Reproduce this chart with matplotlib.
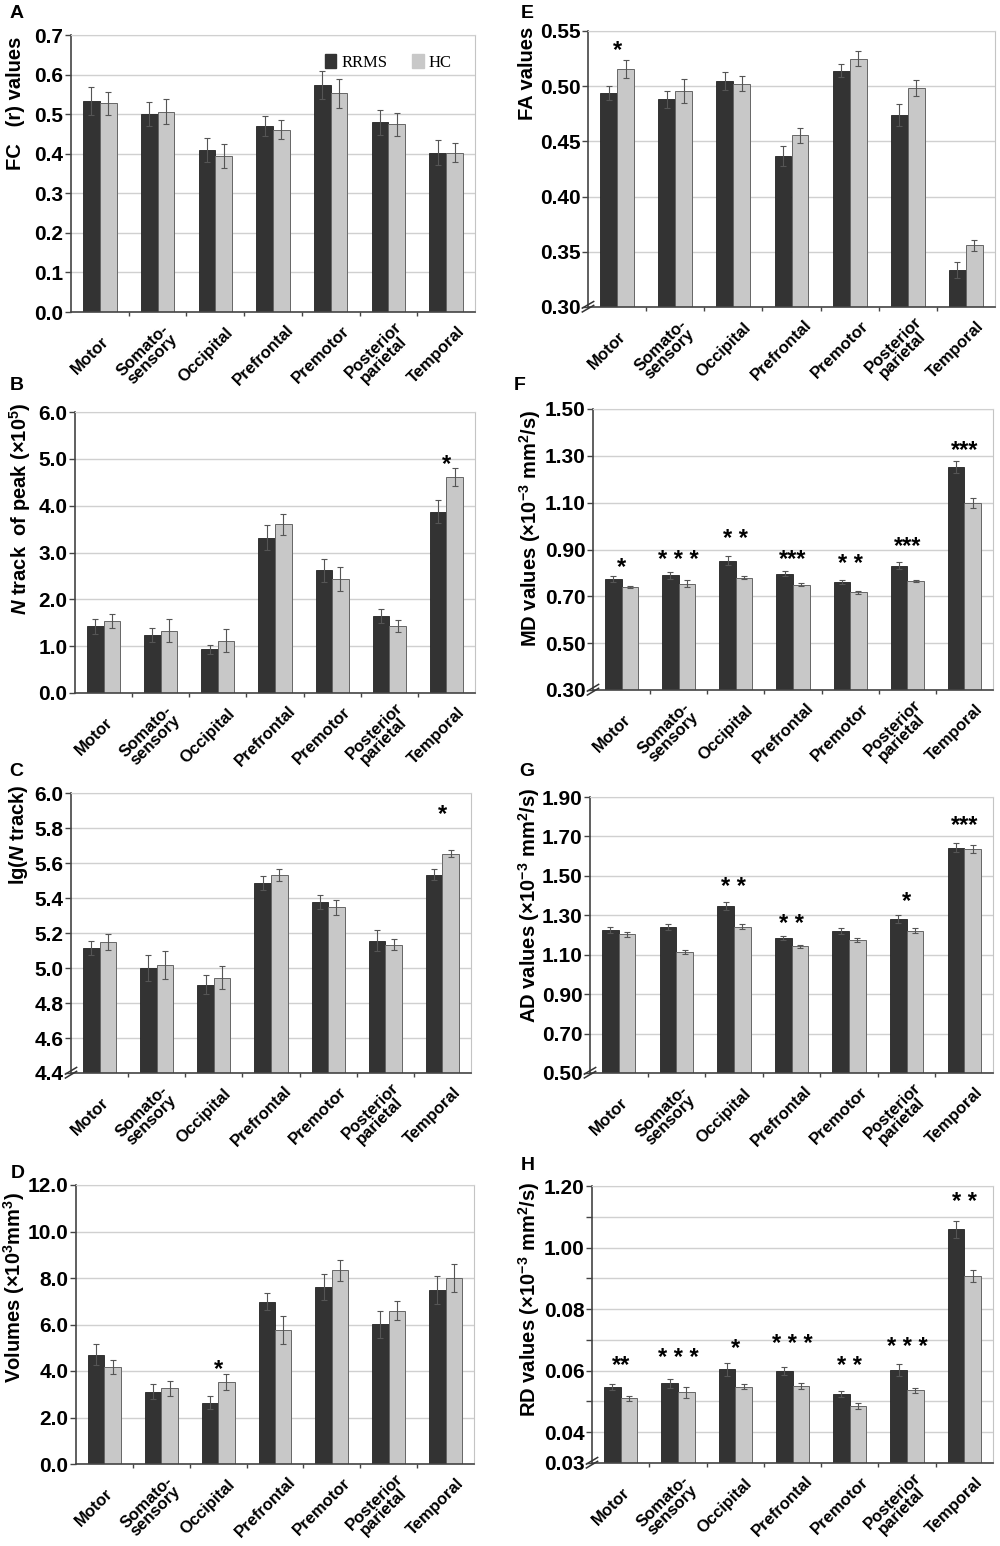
import matplotlib
matplotlib.use('Agg')
import matplotlib.pyplot as plt
import matplotlib.transforms as mtransforms
from matplotlib import font_manager as fm
from matplotlib.patches import Patch
import numpy as np

# ---------------- data ----------------
categories = ['Motor', 'Somato-\nsensory', 'Occipital', 'Prefrontal',
              'Premotor', 'Posterior\nparietal', 'Temporal']

fc_rrms = [0.534, 0.500, 0.410, 0.471, 0.574, 0.479, 0.403]
fc_rrms_err = [0.035, 0.030, 0.030, 0.025, 0.035, 0.032, 0.032]
fc_hc = [0.527, 0.506, 0.394, 0.461, 0.553, 0.474, 0.403]
fc_hc_err = [0.030, 0.032, 0.030, 0.025, 0.037, 0.030, 0.025]

nt_rrms = [1.42, 1.23, 0.93, 3.32, 2.62, 1.64, 3.87]
nt_rrms_err = [0.15, 0.15, 0.10, 0.27, 0.25, 0.15, 0.25]
nt_hc = [1.53, 1.33, 1.12, 3.60, 2.43, 1.43, 4.61]
nt_hc_err = [0.15, 0.25, 0.25, 0.22, 0.25, 0.12, 0.20]

lg_rrms = [5.116, 4.999, 4.905, 5.487, 5.379, 5.156, 5.534]
lg_rrms_err = [0.040, 0.075, 0.055, 0.040, 0.040, 0.060, 0.030]
lg_hc = [5.147, 5.016, 4.945, 5.531, 5.346, 5.133, 5.654]
lg_hc_err = [0.045, 0.080, 0.065, 0.035, 0.045, 0.030, 0.020]

vol_rrms = [4.69, 3.11, 2.64, 6.98, 7.60, 6.01, 7.48]
vol_rrms_err = [0.45, 0.33, 0.28, 0.37, 0.56, 0.57, 0.60]
vol_hc = [4.17, 3.25, 3.53, 5.78, 8.33, 6.60, 8.00]
vol_hc_err = [0.32, 0.32, 0.35, 0.60, 0.45, 0.40, 0.62]

fa_rrms = [0.4937, 0.4880, 0.5048, 0.4370, 0.5139, 0.4738, 0.3337]
fa_rrms_err = [0.0065, 0.0075, 0.0080, 0.0090, 0.0060, 0.0100, 0.0070]
fa_hc = [0.5157, 0.4955, 0.5024, 0.4554, 0.5250, 0.4985, 0.3560]
fa_hc_err = [0.0080, 0.0110, 0.0070, 0.0070, 0.0070, 0.0070, 0.0050]

md_rrms = [0.773, 0.790, 0.852, 0.797, 0.760, 0.830, 1.251]
md_rrms_err = [0.012, 0.015, 0.020, 0.010, 0.008, 0.015, 0.025]
md_hc = [0.740, 0.753, 0.780, 0.750, 0.717, 0.766, 1.099]
md_hc_err = [0.004, 0.015, 0.007, 0.007, 0.005, 0.005, 0.020]

ad_rrms = [1.225, 1.242, 1.349, 1.183, 1.222, 1.281, 1.643]
ad_rrms_err = [0.015, 0.015, 0.020, 0.010, 0.015, 0.018, 0.022]
ad_hc = [1.203, 1.114, 1.242, 1.143, 1.173, 1.222, 1.636]
ad_hc_err = [0.012, 0.012, 0.012, 0.008, 0.010, 0.012, 0.020]

rd_rrms = [0.0546, 0.0559, 0.0604, 0.0599, 0.0525, 0.0602, 0.1059]
rd_rrms_err = [0.0010, 0.0015, 0.0020, 0.0012, 0.0010, 0.0020, 0.0028]
rd_hc = [0.0510, 0.0530, 0.0548, 0.0549, 0.0484, 0.0536, 0.0907]
rd_hc_err = [0.0007, 0.0018, 0.0008, 0.0010, 0.0010, 0.0008, 0.0020]

ticks_A = [0.0, 0.1, 0.2, 0.3, 0.4, 0.5, 0.6, 0.7]
labels_A = ['0.0', '0.1', '0.2', '0.3', '0.4', '0.5', '0.6', '0.7']
ticks_B = [0, 1, 2, 3, 4, 5, 6]
labels_B = ['0.0', '1.0', '2.0', '3.0', '4.0', '5.0', '6.0']
ticks_C = [4.4, 4.6, 4.8, 5.0, 5.2, 5.4, 5.6, 5.8, 6.0]
labels_C = ['4.4', '4.6', '4.8', '5.0', '5.2', '5.4', '5.6', '5.8', '6.0']
ticks_D = [0, 2, 4, 6, 8, 10, 12]
labels_D = ['0.0', '2.0', '4.0', '6.0', '8.0', '10.0', '12.0']
ticks_E = [0.30, 0.35, 0.40, 0.45, 0.50, 0.55]
labels_E = ['0.30', '0.35', '0.40', '0.45', '0.50', '0.55']
ticks_F = [0.30, 0.50, 0.70, 0.90, 1.10, 1.30, 1.50]
labels_F = ['0.30', '0.50', '0.70', '0.90', '1.10', '1.30', '1.50']
ticks_G = [0.50, 0.70, 0.90, 1.10, 1.30, 1.50, 1.70, 1.90]
labels_G = ['0.50', '0.70', '0.90', '1.10', '1.30', '1.50', '1.70', '1.90']
ticks_H = [0.03, 0.04, 0.05, 0.06, 0.07, 0.08, 0.09, 0.10, 0.11, 0.12]
labels_H = ['0.03', '0.04', '', '0.06', '', '0.08', '', '1.00', '', '1.20']

stars_B = ['', '', '', '', '', '', '*']
star_y_B = [0, 0, 0, 0, 0, 0, 5.02]
stars_C = ['', '', '', '', '', '', '*']
star_y_C = [0, 0, 0, 0, 0, 0, 5.916]
stars_D = ['', '', '*', '', '', '', '']
star_y_D = [0, 0, 4.39, 0, 0, 0, 0]
stars_E = ['*', '', '', '', '', '', '']
star_y_E = [0.5386, 0, 0, 0, 0, 0, 0]
stars_F = ['*', '* * *', '* *', '***', '* *', '***', '***']
star_y_F = [0.855, 0.884, 0.973, 0.888, 0.867, 0.945, 1.353]
stars_G = ['', '', '* *', '* *', '', '*', '***']
star_y_G = [0, 0, 1.477, 1.291, 0, 1.406, 1.790]
stars_H = ['**', '* * *', '*', '* * *', '* *', '* * *', '* *']
star_y_H = [0.0639, 0.0664, 0.0694, 0.0709, 0.0636, 0.0700, 0.1168]

# ---------------- fonts ----------------
_names = {f.name for f in fm.fontManager.ttflist}
if 'Liberation Sans Narrow' in _names:
    MAIN = 'Liberation Sans Narrow'
    TICK_FS, LAB_FS = 17, 17
else:
    MAIN = 'Liberation Sans'
    TICK_FS, LAB_FS = 15, 14.5

plt.rcParams['font.family'] = [MAIN, 'DejaVu Sans']
plt.rcParams['font.weight'] = 'bold'
plt.rcParams['mathtext.fontset'] = 'custom'
plt.rcParams['mathtext.rm'] = MAIN + ':bold'
plt.rcParams['mathtext.bf'] = MAIN + ':bold'
plt.rcParams['mathtext.it'] = MAIN + ':bold:italic'
plt.rcParams['mathtext.default'] = 'bf'

C_RRMS = '#333333'
C_HC = '#c8c8c8'

fig = plt.figure(figsize=(10, 15.46), dpi=100)
W, H = 1000.0, 1546.0


def px_axes(left, right, top, bottom):
    return [left / W, 1 - bottom / H, (right - left) / W, (bottom - top) / H]


panels = [
    dict(box=(71, 475, 35, 312), rrms=fc_rrms, re=fc_rrms_err, hc=fc_hc, he=fc_hc_err,
         ticks=ticks_A, labels=labels_A, ylabel='FC   (r) values', lab=(-0.114, 0.993),
         brk=False, stars=None, star_y=None, letter='A', lpos=(17, 13)),
    dict(box=(75, 475, 412, 693), rrms=nt_rrms, re=nt_rrms_err, hc=nt_hc, he=nt_hc_err,
         ticks=ticks_B, labels=labels_B,
         ylabel=r'$\mathit{N}$ track  of peak (×10$^{5}$)', lab=(-0.105, 1.036),
         brk=False, stars=stars_B, star_y=star_y_B, letter='B', lpos=(17, 385)),
    dict(box=(71, 471, 793, 1073), rrms=lg_rrms, re=lg_rrms_err, hc=lg_hc, he=lg_hc_err,
         ticks=ticks_C, labels=labels_C, ylabel=r'lg($\mathit{N}$ track)', lab=(-0.103, 1.029),
         brk=True, stars=stars_C, star_y=star_y_C, letter='C', lpos=(16, 771)),
    dict(box=(76, 474, 1185, 1464), rrms=vol_rrms, re=vol_rrms_err, hc=vol_hc, he=vol_hc_err,
         ticks=ticks_D, labels=labels_D, ylabel=r'Volumes (×10$^{3}$mm$^{3}$)', lab=(-0.122, 0.975),
         brk=False, stars=stars_D, star_y=star_y_D, letter='D', lpos=(18, 1174)),
    dict(box=(588, 995, 31, 307), rrms=fa_rrms, re=fa_rrms_err, hc=fa_hc, he=fa_hc_err,
         ticks=ticks_E, labels=labels_E, ylabel='FA values', lab=(-0.125, 1.014),
         brk=True, stars=stars_E, star_y=star_y_E, letter='E', lpos=(527, 13)),
    dict(box=(593, 993, 409, 690), rrms=md_rrms, re=md_rrms_err, hc=md_hc, he=md_hc_err,
         ticks=ticks_F, labels=labels_F, ylabel=r'MD values (×10$^{-3}$ mm$^{2}$/s)', lab=(-0.125, 0.996),
         brk=True, stars=stars_F, star_y=star_y_F, letter='F', lpos=(520, 386)),
    dict(box=(590, 993, 797, 1073), rrms=ad_rrms, re=ad_rrms_err, hc=ad_hc, he=ad_hc_err,
         ticks=ticks_G, labels=labels_G, ylabel=r'AD values (×10$^{-3}$ mm$^{2}$/s)', lab=(-0.119, 1.033),
         brk=True, stars=stars_G, star_y=star_y_G, letter='G', lpos=(527, 772)),
    dict(box=(592, 993, 1186, 1463), rrms=rd_rrms, re=rd_rrms_err, hc=rd_hc, he=rd_hc_err,
         ticks=ticks_H, labels=labels_H, ylabel=r'RD values (×10$^{-3}$ mm$^{2}$/s)', lab=(-0.125, 1.014),
         brk=True, stars=stars_H, star_y=star_y_H, letter='H', lpos=(528, 1165)),
]

x = np.arange(len(categories))
bw = 0.29
ekw = dict(ecolor='#555555', elinewidth=0.8, capsize=2, capthick=0.8)

for i, p in enumerate(panels):
    ax = fig.add_axes(px_axes(*p['box']))
    ax.bar(x - bw / 2, p['rrms'], bw, color=C_RRMS, edgecolor='#222222', linewidth=0.6,
           yerr=p['re'], error_kw=ekw, label='RRMS', zorder=2)
    ax.bar(x + bw / 2, p['hc'], bw, color=C_HC, edgecolor='#666666', linewidth=0.7,
           yerr=p['he'], error_kw=ekw, label='HC', zorder=2)
    ax.set_xlim(-0.5, len(categories) - 0.5)
    ax.set_ylim(p['ticks'][0], p['ticks'][-1])
    ax.set_yticks(p['ticks'])
    ax.set_yticklabels(p['labels'], fontsize=TICK_FS, fontweight='bold')
    ax.yaxis.grid(True, color='#d0d0d0', linewidth=1.0)
    ax.set_axisbelow(True)
    for s in ['left', 'bottom']:
        ax.spines[s].set_color('#444444')
        ax.spines[s].set_linewidth(1.2)
    ax.spines['right'].set_color('#c4c4c4')
    ax.spines['top'].set_color('#d0d0d0')
    ax.tick_params(axis='y', length=4, width=1, color='#444444', pad=1.5)

    ax.set_xticks(x)
    ax.set_xticks(np.arange(0.5, len(categories) - 0.5, 1.0), minor=True)
    ax.tick_params(axis='x', which='major', length=0, pad=31)
    ax.tick_params(axis='x', which='minor', length=3, width=1, color='#444444')
    ax.set_xticklabels(categories, rotation=45, ha='center', va='center',
                       rotation_mode='anchor', fontsize=12, fontweight='bold',
                       family=['Liberation Sans', 'DejaVu Sans'], linespacing=0.85)
    off = mtransforms.ScaledTranslation(-10 / 100.0, 0, fig.dpi_scale_trans)
    for lab in ax.get_xticklabels():
        lab.set_transform(lab.get_transform() + off)

    ax.set_ylabel(p['ylabel'], fontsize=LAB_FS, fontweight='bold', loc='top')
    ax.yaxis.set_label_coords(p['lab'][0], p['lab'][1])

    if p['stars'] is not None:
        for xi, s, yv in zip(x, p['stars'], p['star_y']):
            if s:
                ax.annotate(s, (xi, yv), xytext=(0, -9.8), textcoords='offset points',
                            ha='center', va='baseline', fontsize=17, fontweight='bold',
                            family=['Liberation Sans', 'DejaVu Sans'], annotation_clip=False)

    if p['brk']:
        for dy in (-0.006, 0.008):
            ax.plot([-0.014, 0.014], [dy - 0.012, dy + 0.012], transform=ax.transAxes,
                    color='#333333', lw=1.1, clip_on=False, zorder=5)

    if i == 0:
        handles = [Patch(facecolor=C_RRMS, edgecolor=C_RRMS), Patch(facecolor=C_HC, edgecolor=C_HC)]
        ax.legend(handles, ['RRMS', 'HC'], loc='upper right', bbox_to_anchor=(0.98, 0.985),
                  ncol=2, frameon=False, handlelength=0.7, handleheight=0.9,
                  handletextpad=0.3, columnspacing=1.5,
                  prop=dict(family='Liberation Serif', size=12, weight='normal'))

    fig.text(p['lpos'][0] / W, 1 - p['lpos'][1] / H, p['letter'], ha='center', va='center',
             fontsize=14, fontweight='bold', family=['Liberation Sans', 'DejaVu Sans'])

fig.savefig('out.png', dpi=100)
